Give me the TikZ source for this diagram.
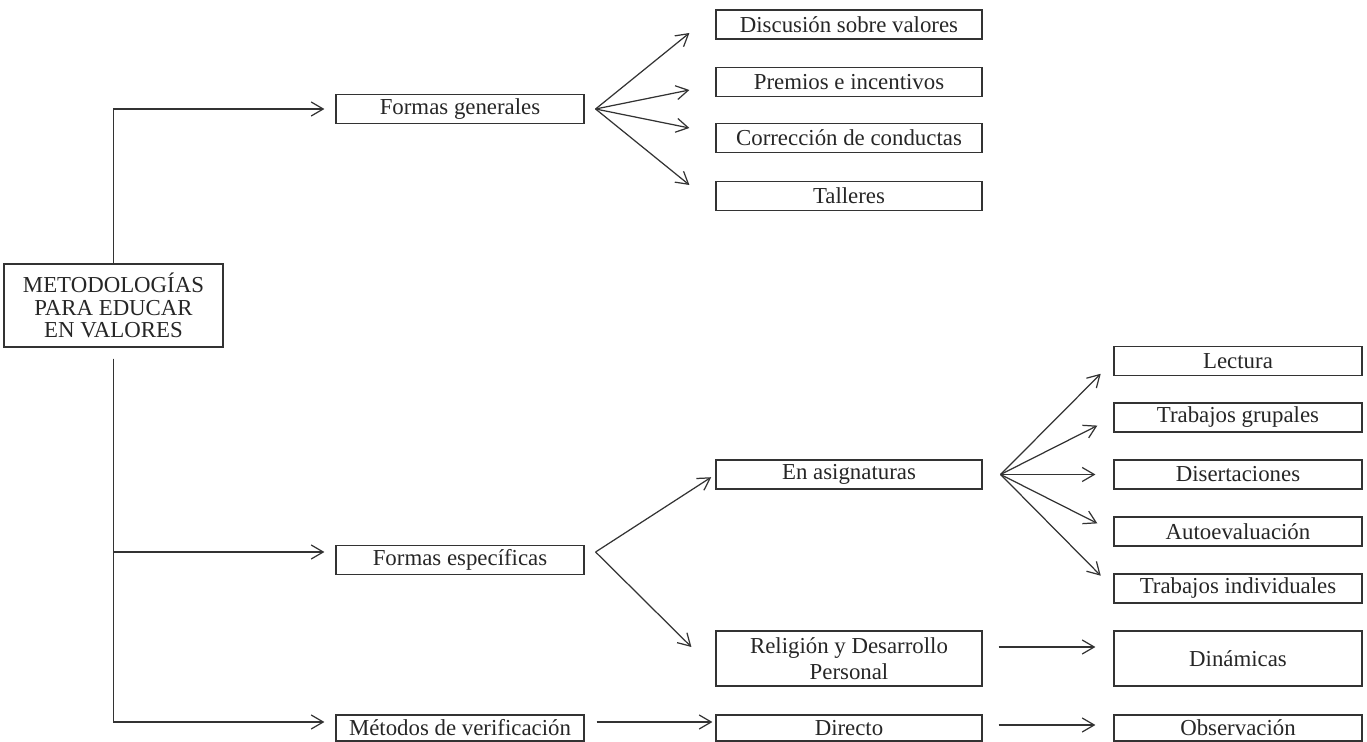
\documentclass[tikz,border=0pt]{standalone}
\usepackage{fontspec}
\setmainfont{Liberation Serif}
\usetikzlibrary{arrows.meta}

\begin{document}
\begin{tikzpicture}[
      x=0.02cm, y=-0.02cm,
      font=\fontsize{13}{15}\selectfont,
      every node/.style={align=center, draw=black!80, line width=0.7pt, inner sep=0pt, text=black!85},
      box/.style={minimum width=4.96cm, minimum height=0.58cm},
      wbox/.style={minimum width=5.32cm, minimum height=0.58cm},
      arrow/.style={-{Straight Barb[length=2.4mm, width=2.8mm]}, line width=0.7pt, draw=black!80}
  ]
  \useasboundingbox (0,0) rectangle (1367,742);

  % Nodes ------------------------------------------------
  \node[minimum width=4.38cm, minimum height=1.66cm, font=\fontsize{13}{12.8}\selectfont] (root) at (113.5,305.5) {METODOLOGÍAS\\ PARA EDUCAR\\ EN VALORES};

  \node[box] (gen) at (460,109) {Formas generales};
  \node[box] (esp) at (460,560) {Formas específicas};
  \node[box, minimum height=0.52cm] (met) at (460,728) {Métodos de verificación};

  \node[wbox] (disc) at (849,24.5) {Discusión sobre valores};
  \node[wbox] (prem) at (849,82)   {Premios e incentivos};
  \node[wbox] (corr) at (849,138)  {Corrección de conductas};
  \node[wbox] (tall) at (849,196)  {Talleres};
  \node[wbox] (asig) at (849,474.5) {En asignaturas};
  \node[wbox, minimum height=1.1cm] (rel) at (849,658.5) {Religión y Desarrollo\\ Personal};
  \node[wbox, minimum height=0.52cm] (dir) at (849,728) {Directo};

  \node[box] (lect)   at (1238,361)   {Lectura};
  \node[box] (grup)   at (1238,417.5) {Trabajos grupales};
  \node[box] (disert) at (1238,474.5) {Disertaciones};
  \node[box] (auto)   at (1238,531.5) {Autoevaluación};
  \node[box] (indiv)  at (1238,588.5) {Trabajos individuales};
  \node[box, minimum height=1.1cm] (din) at (1238,658.5) {Dinámicas};
  \node[box, minimum height=0.52cm] (obs) at (1238,728) {Observación};

  % Fan points
  \coordinate (genfan)  at ([xshift=0.22cm]gen.east);
  \coordinate (espfan)  at ([shift={(11,-8)}]esp.east);
  \coordinate (asigfan) at ([xshift=0.36cm]asig.east);

  % Arrows ------------------------------------------------
  \draw[arrow, shorten >=0.22cm] (root.north) |- (gen.west);
  \draw[arrow, shorten <=0.22cm, shorten >=0.22cm] (root.south) |- ([shift={(0,-8)}]esp.west);
  \draw[arrow, shorten <=0.22cm, shorten >=0.22cm] (root.south) |- ([shift={(0,-6)}]met.west);

  \draw[arrow] (genfan) -- ([shift={(-26,8.5)}]disc.west);
  \draw[arrow] (genfan) -- ([shift={(-26,8)}]prem.west);
  \draw[arrow] (genfan) -- ([shift={(-26,-10)}]corr.west);
  \draw[arrow] (genfan) -- ([shift={(-26,-11)}]tall.west);

  \draw[arrow, shorten >=0.1cm] (espfan) -- (asig.west);
  \draw[arrow] (espfan) -- ([shift={(-24,-11.5)}]rel.west);

  \foreach \t in {lect, grup, disert, auto, indiv}
    \draw[arrow, shorten >=0.36cm] (asigfan) -- (\t.west);

  \draw[arrow, shorten <=0.32cm, shorten >=0.36cm] ([shift={(0,-11.5)}]rel.east) -- ([shift={(0,-11.5)}]din.west);
  \draw[arrow, shorten <=0.24cm, shorten >=0.06cm] ([shift={(0,-6)}]met.east) -- ([shift={(0,-6)}]dir.west);
  \draw[arrow, shorten <=0.32cm, shorten >=0.36cm] ([shift={(0,-3)}]dir.east) -- ([shift={(0,-3)}]obs.west);
\end{tikzpicture}
\end{document}
